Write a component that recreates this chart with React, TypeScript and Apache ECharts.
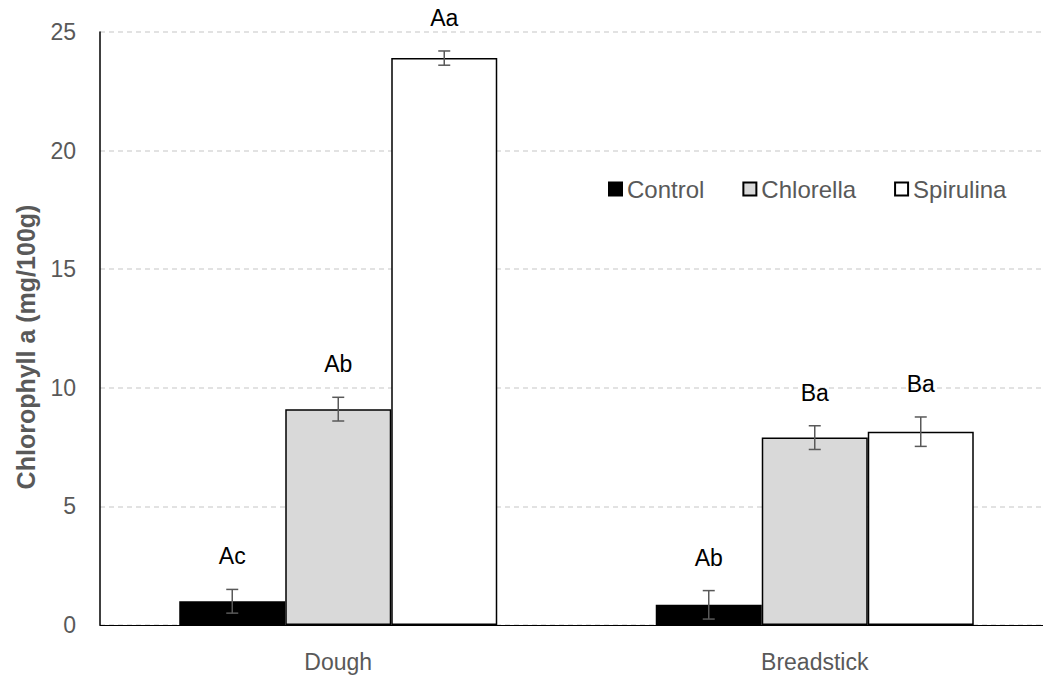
import React, { useEffect, useRef } from "react";
import * as echarts from "echarts";

const categories = ["Dough", "Breadstick"];
const seriesNames = ["Control", "Chlorella", "Spirulina"];
const control = [1.0, 0.85];
const controlErr = [0.5, 0.6];
const chlorella = [9.1, 7.9];
const chlorellaErr = [0.5, 0.5];
const spirulina = [23.9, 8.15];
const spirulinaErr = [0.3, 0.62];
const controlLetters = ["Ac", "Ab"];
const chlorellaLetters = ["Ab", "Ba"];
const spirulinaLetters = ["Aa", "Ba"];
const yMin = 0;
const yMax = 25;
const yStep = 5;
const yTitle = "Chlorophyll a (mg/100g)";

const FONT = "'Liberation Sans', Arial, sans-serif";
const BAR_W = 106;
const fills = ["#000000", "#d9d9d9", "#ffffff"];

export default function App() {
  const ref = useRef<HTMLDivElement>(null);
  useEffect(() => {
    document.body.style.margin = "0";
    document.body.style.overflow = "hidden";
    document.documentElement.style.overflow = "hidden";
    if (!ref.current) return;
    const chart = echarts.init(ref.current, undefined, { renderer: "svg" });
    const values = [control, chlorella, spirulina];
    const errs = [controlErr, chlorellaErr, spirulinaErr];
    const letters = [controlLetters, chlorellaLetters, spirulinaLetters];

    const barSeries = seriesNames.map((name, i) => ({
      name,
      type: "bar",
      data: values[i],
      barWidth: BAR_W,
      barGap: "0%",
      itemStyle: { color: fills[i], borderColor: "#000", borderWidth: 1.5 },
      z: 2,
    }));

    const errSeries = seriesNames.map((name, i) => ({
      name: name + "-err",
      type: "custom",
      data: values[i].map((v, j) => [j, v, errs[i][j]]),
      z: 5,
      renderItem: (params: any, api: any) => {
        const x = api.value(0);
        const v = api.value(1);
        const e = api.value(2);
        const top = api.coord([x, v + e]);
        const bot = api.coord([x, v - e]);
        const cx = top[0] + (i - 1) * BAR_W;
        const cap = 6;
        const stroke = { stroke: "#595959", lineWidth: 1.5 };
        return {
          type: "group",
          children: [
            { type: "line", shape: { x1: cx, y1: top[1], x2: cx, y2: bot[1] }, style: stroke },
            { type: "line", shape: { x1: cx - cap, y1: top[1], x2: cx + cap, y2: top[1] }, style: stroke },
            { type: "line", shape: { x1: cx - cap, y1: bot[1], x2: cx + cap, y2: bot[1] }, style: stroke },
            {
              type: "text",
              x: cx,
              y: top[1] - 33,
              style: {
                text: letters[i][params.dataIndex],
                fill: "#000",
                font: `23px ${FONT}`,
                align: "center",
                verticalAlign: "middle",
              },
            },
          ],
        };
      },
    }));

    chart.setOption({
      animation: false,
      textStyle: { fontFamily: FONT },
      grid: { left: 100, right: 0, top: 32, bottom: 52 },
      graphic: [
        {
          type: "text",
          x: 26,
          y: 347,
          rotation: Math.PI / 2,
          style: {
            text: yTitle,
            fill: "#595959",
            font: `bold 25px ${FONT}`,
            align: "center",
            verticalAlign: "middle",
          },
        },
      ],
      legend: {
        data: seriesNames,
        left: 603,
        top: 172,
        icon: "rect",
        itemWidth: 13,
        itemHeight: 13,
        itemGap: 38,
        textStyle: { fontSize: 24, color: "#595959", fontFamily: FONT },
      },
      xAxis: {
        type: "category",
        data: categories,
        axisLine: { show: true, lineStyle: { color: "#000", width: 1 } },
        axisTick: { show: false },
        axisLabel: { fontSize: 23, color: "#595959", margin: 25, fontFamily: FONT },
      },
      yAxis: {
        type: "value",
        min: yMin,
        max: yMax,
        interval: yStep,
        axisLine: { show: true, lineStyle: { color: "#000", width: 1.5 } },
        axisTick: { show: false },
        axisLabel: { fontSize: 23, color: "#595959", margin: 24, fontFamily: FONT },
        splitLine: { show: true, lineStyle: { color: "#d9d9d9", width: 1.5, type: [5, 4] } },
      },
      series: [...barSeries, ...errSeries],
    });
    return () => chart.dispose();
  }, []);
  return <div ref={ref} style={{ width: 1053, height: 677 }} />;
}
